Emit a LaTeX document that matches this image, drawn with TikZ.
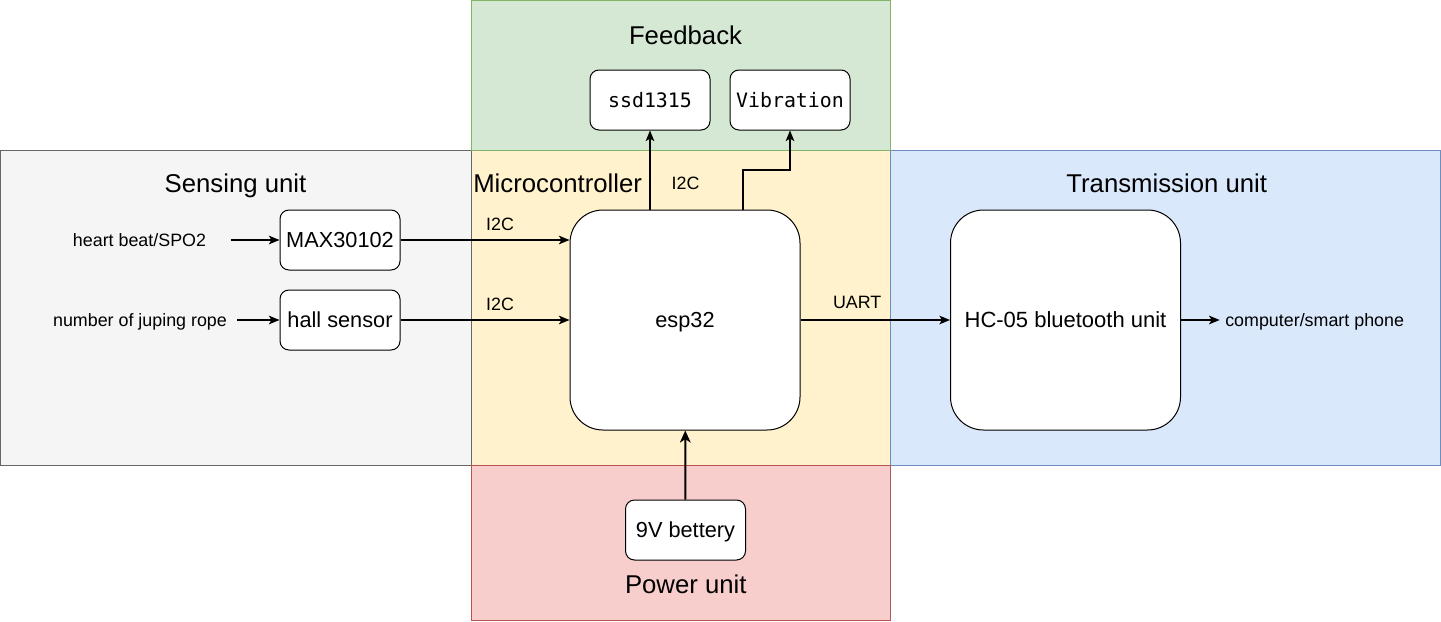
\documentclass[tikz,border=0pt]{standalone}
\usepackage{fontspec}
\setmainfont{Liberation Sans}
\setmonofont{DejaVu Sans Mono}
\usetikzlibrary{arrows.meta}

\definecolor{feedfill}{HTML}{D5E8D4}
\definecolor{feeddraw}{HTML}{82B366}
\definecolor{sensefill}{HTML}{F5F5F5}
\definecolor{sensedraw}{HTML}{666666}
\definecolor{microfill}{HTML}{FFF2CC}
\definecolor{microdraw}{HTML}{D6B656}
\definecolor{transfill}{HTML}{DAE8FC}
\definecolor{transdraw}{HTML}{6C8EBF}
\definecolor{powerfill}{HTML}{F8CECC}
\definecolor{powerdraw}{HTML}{B85450}

\begin{document}
\begin{tikzpicture}[x=0.75pt, y=-0.75pt,
  link/.style={-{Stealth[length=8pt,width=6.5pt,inset=2pt]}, line width=0.9pt},
  region/.style={line width=0.75pt},
  block node/.style={draw, fill=white, line width=0.75pt, rounded corners=6.75pt, minimum width=90pt, minimum height=45pt, inner sep=1pt, font=\fontsize{16.3}{18}\selectfont, text height=11.7pt, text depth=0pt},
  mono node/.style={block node, font=\ttfamily\fontsize{14.9}{17}\selectfont, text height=10.9pt},
  big node/.style={block node, rounded corners=24.75pt, minimum width=172.5pt, minimum height=165pt},
  title node/.style={inner sep=0pt, font=\fontsize{19.3}{22}\selectfont, text height=13.8pt, text depth=0pt},
  label node/.style={inner sep=0pt, font=\fontsize{13.4}{16}\selectfont, text height=9.6pt, text depth=0pt}]
\useasboundingbox (0,0) rectangle (1441,621);

% units
\draw[region, draw=microdraw, fill=microfill] (471,150) rectangle (890,465);
\draw[region, draw=sensedraw, fill=sensefill] (0.5,150) rectangle (471,465);
\draw[region, draw=transdraw, fill=transfill] (890,150) rectangle (1440.5,465);
\draw[region, draw=feeddraw, fill=feedfill] (471,0.5) rectangle (890,150);
\draw[region, draw=powerdraw, fill=powerfill] (471,465) rectangle (890,620.5);

\node[title node] (feedtitle) at (685.5,35) {Feedback};
\node[title node] (sensetitle) at (235.5,183) {Sensing unit};
\node[title node, anchor=west] (microtitle) at (473,183) {Microcontroller};
\node[title node] (transtitle) at (1166.7,183) {Transmission unit};
\node[title node] (powertitle) at (685.8,584) {Power unit};

% blocks
\node[mono node] (ssd) at (650,100) {ssd1315};
\node[mono node] (vib) at (790,100) {Vibration};
\node[block node] (max) at (340,240) {MAX30102};
\node[block node] (hall) at (340,320) {hall sensor};
\node[big node] (esp) at (685,320) {esp32};
\node[big node, font=\fontsize{16.5}{19}\selectfont, text height=11.8pt] (hc) at (1065.5,320) {HC-05 bluetooth unit};
\node[block node] (bat) at (685.5,530) {9V bettery};

% labels
\node[label node] (hb) at (139.5,240) {heart beat/SPO2};
\node[label node] (rope) at (140,320) {number of juping rope};
\node[label node, anchor=west] (pc) at (1225,320) {computer/smart phone};
\node[label node] (i2ca) at (500,223.6) {I2C};
\node[label node] (i2cb) at (500,303.6) {I2C};
\node[label node] (i2cc) at (685.5,182.6) {I2C};
\node[label node] (uart) at (857.2,302) {UART};
\coordinate (vtap) at (743,210);

\draw[link, shorten <=18.2pt] (hb.east) -- (max.west);
\draw[link, shorten <=7.7pt] (rope.east) -- (hall.west);
\draw[link] (max.east) -- (max.east -| esp.west);
\draw[link] (hall) -- (esp);
\draw[link] (esp) -- (hc);
\draw[link, shorten >=4pt] (hc) -- (pc);
\draw[link] (esp.north -| ssd.south) -- (ssd.south);
\draw[link] (vtap) -- ++(0,-40) -| (vib.south);
\draw[link, line width=1.5pt, -{Stealth[length=9pt,width=8pt,inset=2.5pt]}] (bat) -- (esp);
\end{tikzpicture}
\end{document}
